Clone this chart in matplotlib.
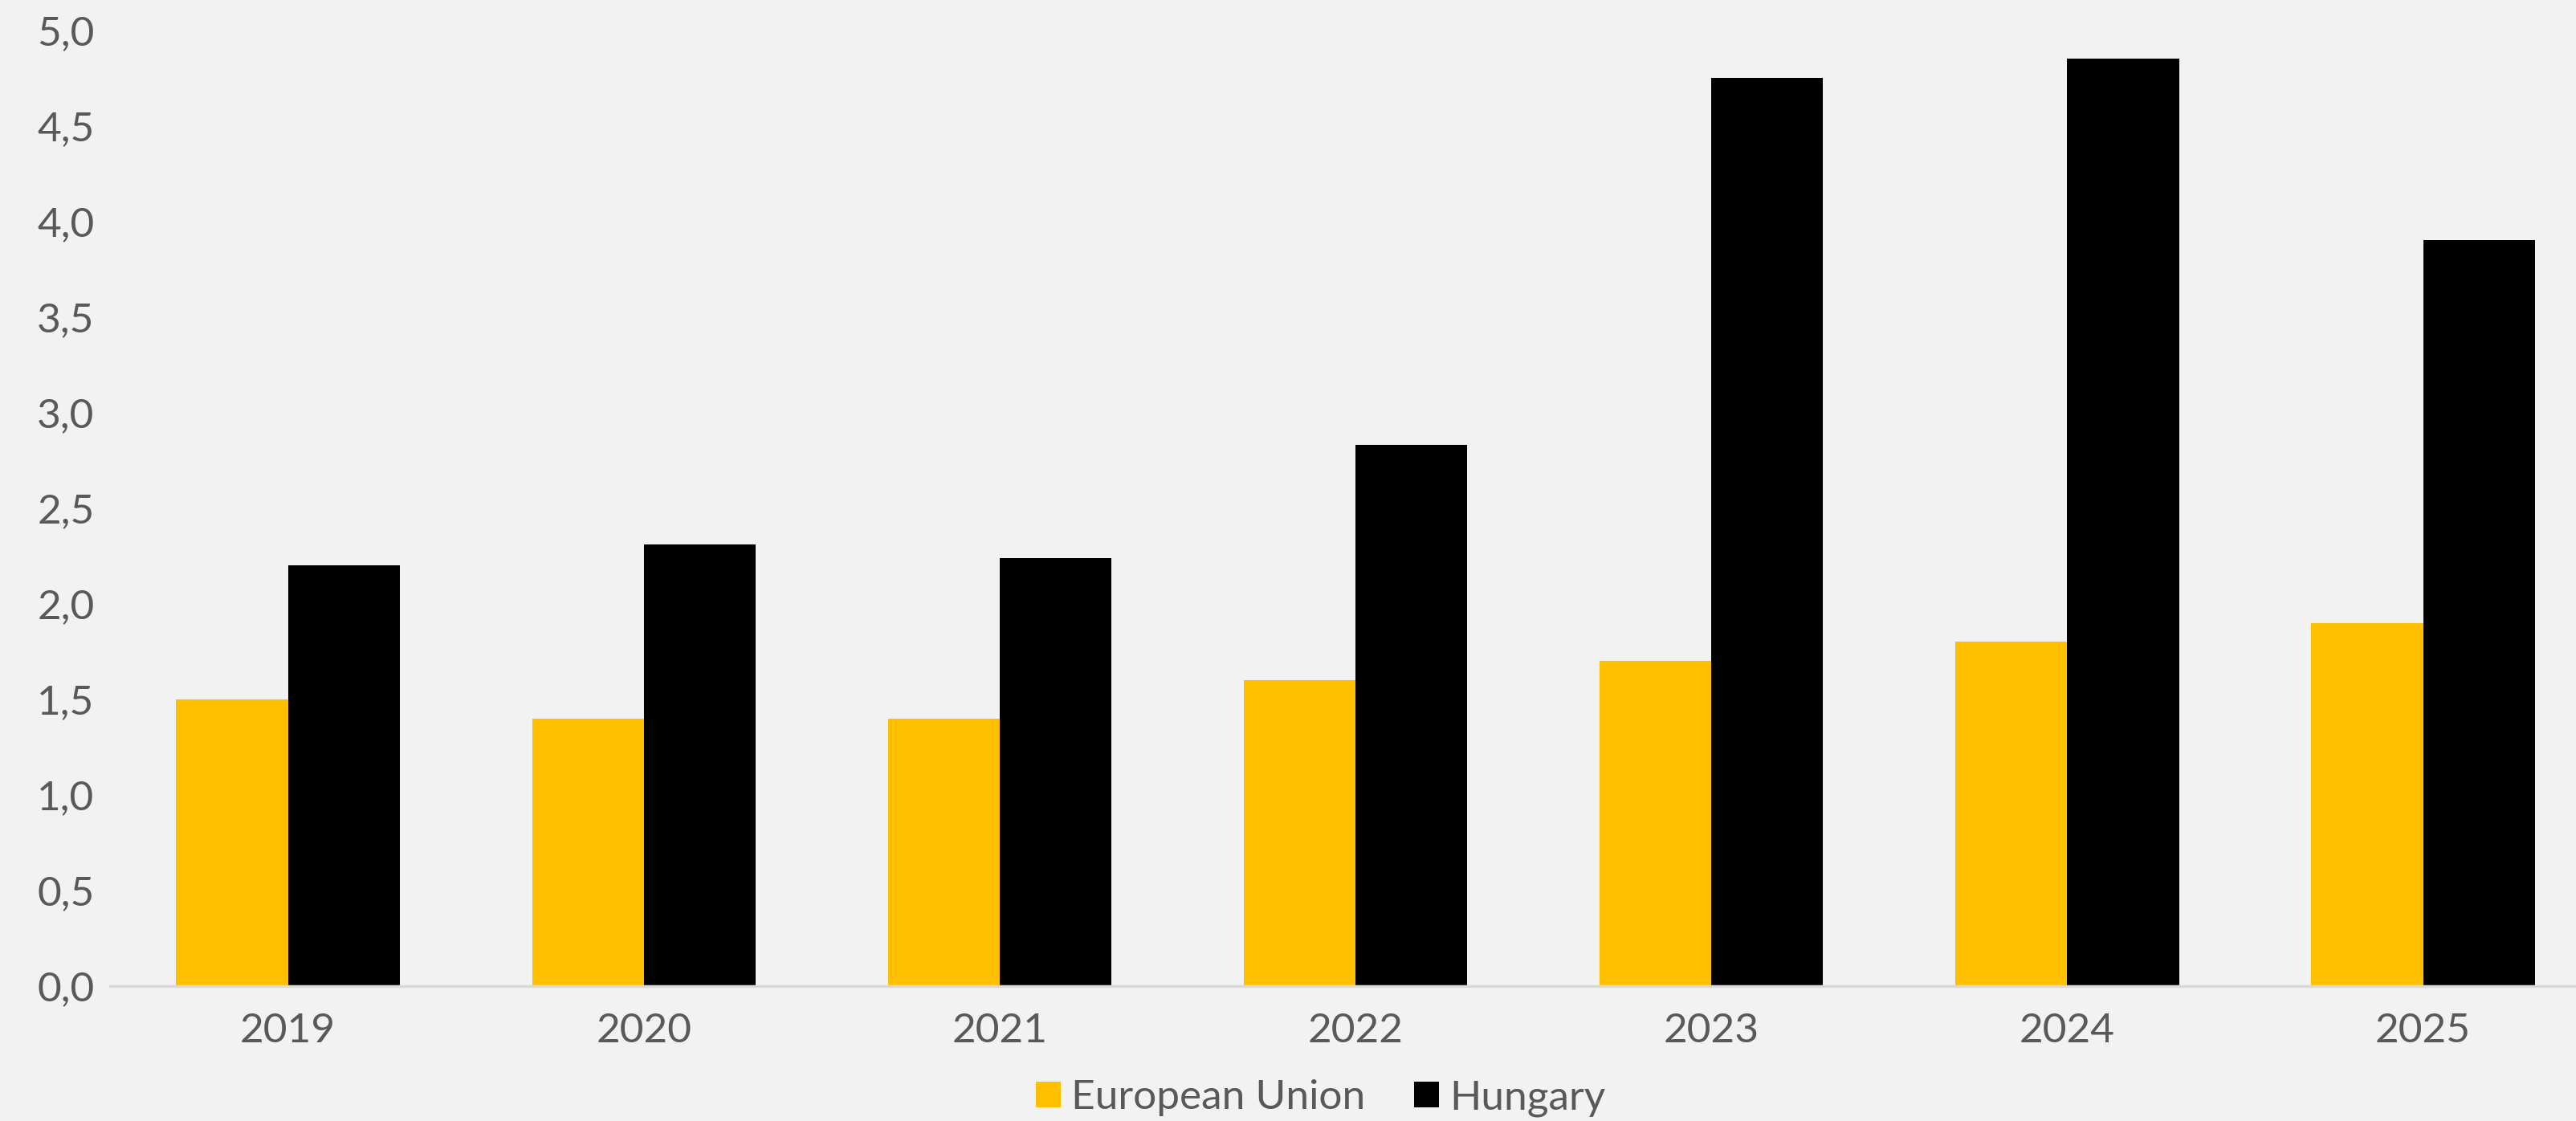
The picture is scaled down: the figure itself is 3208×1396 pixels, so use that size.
import matplotlib.pyplot as plt
import numpy as np
from matplotlib.ticker import FuncFormatter

years = ['2019', '2020', '2021', '2022', '2023', '2024', '2025']
eu = [1.5, 1.4, 1.4, 1.6, 1.7, 1.8, 1.9]
hungary = [2.2, 2.31, 2.24, 2.83, 4.75, 4.85, 3.9]
y_ticks = [0, 0.5, 1.0, 1.5, 2.0, 2.5, 3.0, 3.5, 4.0, 4.5, 5.0]

plt.rcParams['font.family'] = ['Lato', 'DejaVu Sans']

fig = plt.figure(figsize=(32.08, 13.96), dpi=100, facecolor='#F2F2F2')
ax = fig.add_axes([0.0427, 0.1203, 0.967, 0.853])
ax.set_facecolor('#F2F2F2')

x = np.arange(len(years))
w = 0.314
ax.bar(x - w / 2, eu, width=w, color='#FFC000', label='European Union')
ax.bar(x + w / 2, hungary, width=w, color='#000000', label='Hungary')

ax.set_xlim(-0.5, len(years) - 0.5)
ax.set_ylim(0, 5.0)
ax.set_yticks(y_ticks)
ax.yaxis.set_major_formatter(FuncFormatter(lambda v, p: f'{v:.1f}'.replace('.', ',')))
ax.set_xticks(x)
ax.set_xticklabels(years)

for s in ['top', 'right', 'left']:
    ax.spines[s].set_visible(False)
ax.spines['bottom'].set_color('#D9D9D9')
ax.spines['bottom'].set_linewidth(2.5)

ax.tick_params(axis='both', length=0, labelsize=37, colors='#595959')
ax.tick_params(axis='y', pad=14)
ax.tick_params(axis='x', pad=24)

leg = ax.legend(loc='center', bbox_to_anchor=(0.486, -0.117), ncol=2,
                frameon=False, fontsize=37, handlelength=0.6, handleheight=0.6,
                handletextpad=0.25, columnspacing=1.2)
for t in leg.get_texts():
    t.set_color('#595959')

fig.savefig('out.png', dpi=100, facecolor=fig.get_facecolor())
